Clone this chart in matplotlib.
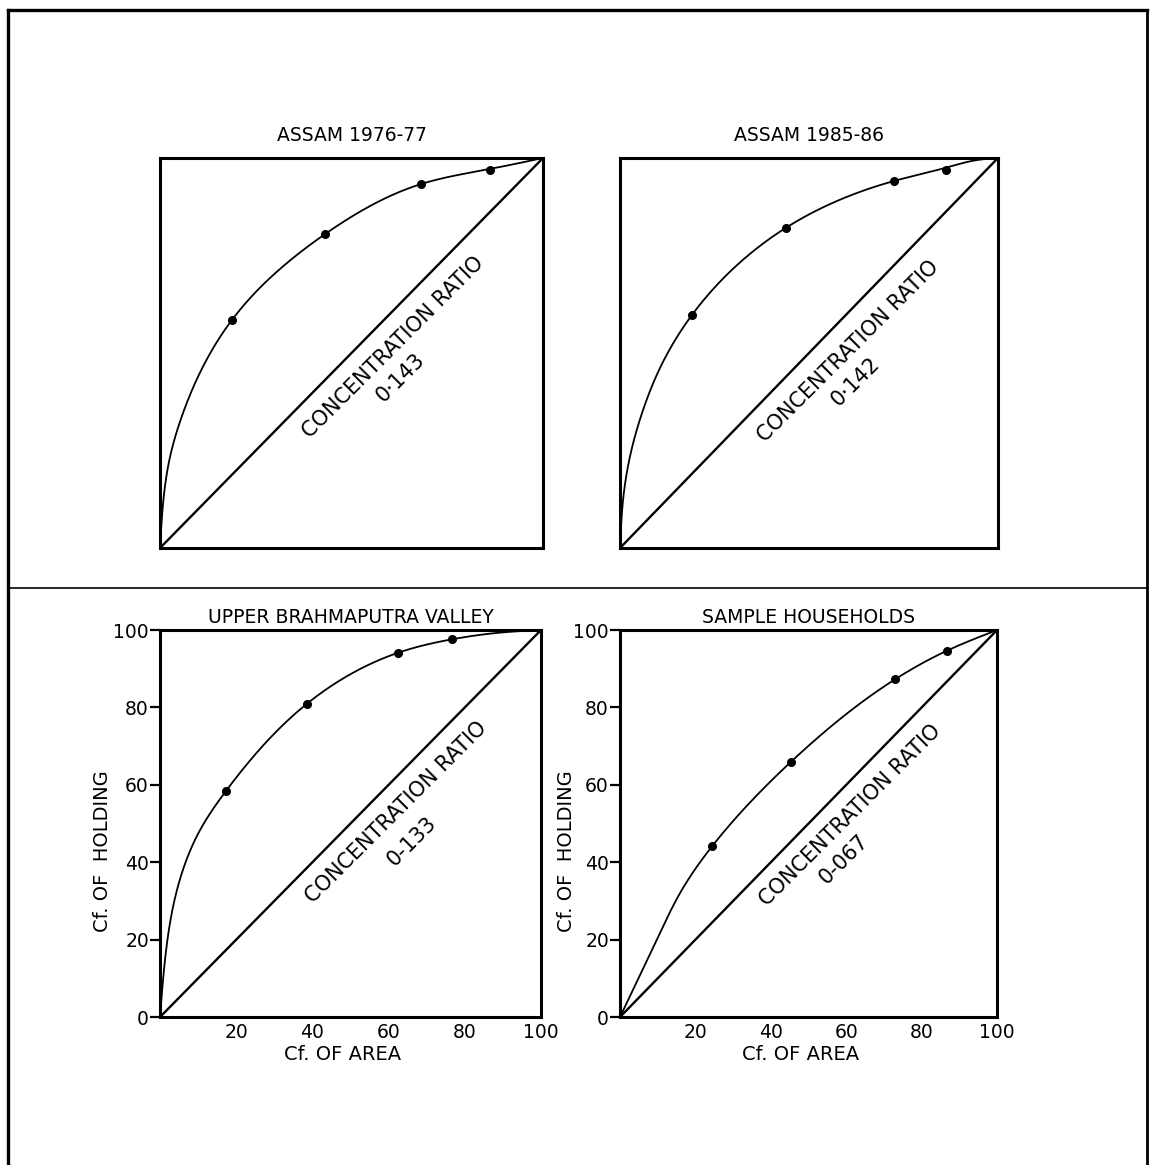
import numpy as np
import matplotlib
matplotlib.use('Agg')
import matplotlib.pyplot as plt
from matplotlib.lines import Line2D

# Lorenz curves: cumulative % of area (x) vs cumulative % of holdings (y)
titles = ['ASSAM 1976-77', 'ASSAM 1985-86', 'UPPER BRAHMAPUTRA VALLEY', 'SAMPLE HOUSEHOLDS']
ratios = ['0·143', '0·142', '0-133', '0-067']

# plotted dots
assam76_x = [18.8, 43.1, 68.1, 86.2]
assam76_y = [58.5, 80.5, 93.3, 96.9]
assam85_x = [19.0, 43.9, 72.5, 86.2]
assam85_y = [59.7, 82.1, 94.1, 96.9]
upper_x = [17.3, 38.5, 62.4, 76.6]
upper_y = [58.4, 80.9, 94.1, 97.6]
sample_x = [24.4, 45.4, 73.0, 86.8]
sample_y = [44.1, 66.0, 87.3, 94.7]

# points (incl. ends)
assam76_cx = [0, 0.8, 2.6, 6.0, 10.4, 18.8, 43.1, 68.1, 86.2, 100]
assam76_cy = [0, 11.5, 23.3, 34.6, 44.9, 58.5, 80.5, 93.3, 97.2, 100]
assam85_cx = [0, 0.8, 2.6, 6.1, 10.6, 19.0, 43.9, 72.5, 86.2, 94, 100]
assam85_cy = [0, 12.3, 23.3, 35.4, 46.2, 59.7, 82.1, 94.1, 97.5, 99.4, 100]
upper_cx = [0, 1.3, 3.4, 6.0, 10.5, 17.3, 38.5, 62.4, 76.6, 90, 100]
upper_cy = [0, 14.7, 28.4, 38.0, 48.3, 58.4, 80.9, 94.1, 97.6, 99.4, 100]
sample_cx = [0, 10.1, 15.9, 24.4, 45.4, 73.0, 86.8, 100]
sample_cy = [0, 20.7, 32.0, 44.1, 66.0, 87.3, 94.7, 100]

equality = [0, 100]
x_ticks = [20, 40, 60, 80, 100]
y_ticks = [0, 20, 40, 60, 80, 100]


def spline(t, v, ts):
    # natural cubic spline, only for drawing the hand-drawn curve smoothly
    v = np.asarray(v, float)
    n = len(t)
    h = np.diff(t)
    A = np.zeros((n, n))
    r = np.zeros(n)
    A[0, 0] = A[-1, -1] = 1
    for i in range(1, n - 1):
        A[i, i - 1] = h[i - 1]
        A[i, i] = 2 * (h[i - 1] + h[i])
        A[i, i + 1] = h[i]
        r[i] = 6 * ((v[i + 1] - v[i]) / h[i] - (v[i] - v[i - 1]) / h[i - 1])
    M = np.linalg.solve(A, r)
    idx = np.clip(np.searchsorted(t, ts) - 1, 0, n - 2)
    hh = h[idx]
    a = (t[idx + 1] - ts) / hh
    b = (ts - t[idx]) / hh
    return a * v[idx] + b * v[idx + 1] + ((a**3 - a) * M[idx] + (b**3 - b) * M[idx + 1]) * hh**2 / 6


def smooth(x, y):
    x = np.asarray(x, float)
    y = np.asarray(y, float)
    t = np.concatenate([[0], np.cumsum(np.hypot(np.diff(x), np.diff(y)))])
    ts = np.linspace(0, t[-1], 800)
    return spline(t, x, ts), spline(t, y, ts)


fig = plt.figure(figsize=(11.52, 11.65), dpi=100)
plt.rcParams['font.family'] = ['DejaVu Sans']

boxes = [
    [0.1389, 0.5296, 0.3325, 0.3348],
    [0.5382, 0.5296, 0.3281, 0.3348],
    [0.1389, 0.1270, 0.3307, 0.3322],
    [0.5382, 0.1270, 0.3273, 0.3322],
]
dots = [(assam76_x, assam76_y), (assam85_x, assam85_y), (upper_x, upper_y), (sample_x, sample_y)]
curves = [(assam76_cx, assam76_cy), (assam85_cx, assam85_cy), (upper_cx, upper_cy), (sample_cx, sample_cy)]
label_pos = [(60.8, 51.5, 62.7, 43.8), (60.3, 50.5, 62.2, 42.6),
             (61.9, 53.0, 66.0, 45.5), (61.0, 52.2, 59.4, 40.8)]

for i in range(4):
    ax = fig.add_axes(boxes[i])
    sx, sy = smooth(*curves[i])
    ax.plot(sx, sy, color='black', lw=1.3)
    ax.plot(equality, equality, color='black', lw=1.7)
    ax.plot(dots[i][0], dots[i][1], 'o', color='black', ms=5.5)
    ax.set_xlim(0, 100)
    ax.set_ylim(0, 100)
    for s in ax.spines.values():
        s.set_linewidth(2.2)
    tx, ty, vx, vy = label_pos[i]
    ax.text(tx, ty, 'CONCENTRATION RATIO', rotation=45, rotation_mode='anchor',
            ha='center', va='center', fontsize=15)
    ax.text(vx, vy, ratios[i], rotation=45, rotation_mode='anchor',
            ha='center', va='center', fontsize=15)
    ax.set_title(titles[i], fontsize=13.5, pad=12 if i < 2 else 5)
    if i < 2:
        ax.set_xticks([])
        ax.set_yticks([])
    else:
        ax.set_xticks(x_ticks)
        ax.set_yticks(y_ticks)
        ax.tick_params(axis='x', length=0, pad=4, labelsize=13.5)
        ax.tick_params(axis='y', length=7, width=1.6, pad=1, labelsize=13.5)
        ax.set_xlabel('Cf. OF AREA', fontsize=14)
        ax.xaxis.set_label_coords(0.48, -0.072)
        ax.set_ylabel('Cf. OF  HOLDING', fontsize=14)
        ax.yaxis.set_label_coords(-0.125 if i == 2 else -0.118, 0.43)

# outer frame and divider
fig.add_artist(Line2D([0.0069, 0.0069], [0.0, 0.9914], color='black', lw=2.4))
fig.add_artist(Line2D([0.9957, 0.9957], [0.0, 0.9914], color='black', lw=2.0))
fig.add_artist(Line2D([0.0069, 0.9957], [0.9914, 0.9914], color='black', lw=2.4))
fig.add_artist(Line2D([0.0069, 0.9957], [0.4953, 0.4953], color='black', lw=1.2))

plt.savefig('out.png', dpi=100)
